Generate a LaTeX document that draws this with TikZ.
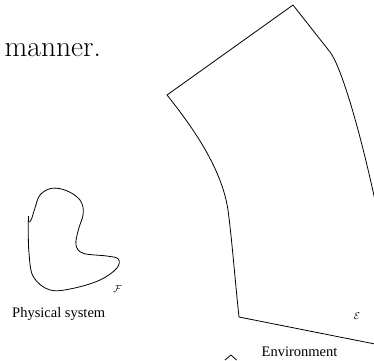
\documentclass[tikz,border=0pt]{standalone}
\usepackage{fontspec}
\newfontfamily\capfont{Liberation Serif}
\usetikzlibrary{positioning}
\tikzset{
  caption/.style={font=\capfont\fontsize{14.5}{17}\selectfont, inner sep=0pt, anchor=base west},
  region/.style={line width=0.8pt, line join=round},
}

\begin{document}
\begin{tikzpicture}[x=1pt, y=-1pt]
    \useasboundingbox (0,0) rectangle (374,360);
    \clip (0,0) rectangle (374,360);
    \node[anchor=base west, inner sep=0pt, font=\fontsize{29.5}{35}\selectfont] (manner) at (4.5,56.7) {manner.};
    % physical system
    \draw[region] plot[smooth, tension=0.6] coordinates {(28.5,216) (28.3,230) (29,253) (33.3,276.7) (50,290) (73.3,288.3) (100,280) (116.7,268.3) (118.3,259) (106.7,256) (83.3,253.3) (76,245) (78.3,230) (83.3,213.3) (80,200) (66.7,190.7) (51.7,188.3) (40,195) (35,208) (31.5,219) (29.5,222)};
    \node[caption] (physical) at (12,317.3) {Physical system};
    \node (labelF) at (117.5,289.5) {$\mathcal{F}$};
    % environment
    \draw[region] (376,205) .. controls (360,130) and (341,66) .. (330,52) -- (293,5) -- (167,95)
        .. controls (195,130) and (222,170) .. (228,210) .. controls (232,240) and (235,280) .. (239,317) -- (380,345);
    \draw[region] (225,360) -- (231,355) -- (236.5,360);
    \node[caption] (environment) at (261.5,356.5) {Environment};
    \node (labelE) at (357,316) {$\mathcal{E}$};
\end{tikzpicture}
\end{document}
